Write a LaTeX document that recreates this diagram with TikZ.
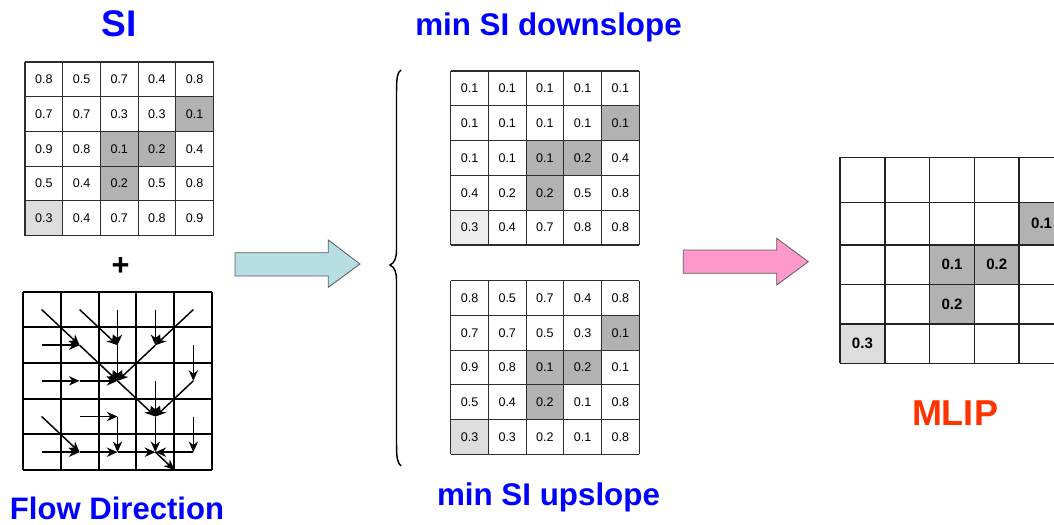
\documentclass[tikz,border=0pt]{standalone}
\usepackage{fontspec}
\setmainfont{Liberation Sans}
\usetikzlibrary{arrows.meta}
\definecolor{titleblue}{RGB}{0,0,255}
\definecolor{titlered}{RGB}{255,51,0}
\definecolor{darkcell}{RGB}{178,178,178}
\definecolor{lightcell}{RGB}{221,221,221}
\definecolor{palecell}{RGB}{238,238,238}
\definecolor{arrowcyan}{RGB}{183,222,226}
\definecolor{arrowpink}{RGB}{255,153,204}
\tikzset{
  headline/.style={font=\fontsize{23.5}{28}\selectfont\bfseries, text=titleblue, inner sep=0pt, anchor=base},
  val/.style={font=\fontsize{9.4}{11}\selectfont, inner sep=0pt},
  boldval/.style={font=\fontsize{11.3}{13}\selectfont\bfseries, inner sep=0pt},
  cellline/.style={draw={rgb,255:red,45;green,45;blue,45}, line width=0.8pt},
  bigline/.style={draw={rgb,255:red,35;green,35;blue,35}, line width=1.2pt},
  flowarrow/.style={line width=1.1pt, -{Stealth[length=8pt,width=7pt]}},
  blockarrow/.style={draw={rgb,255:red,90;green,90;blue,90}, line width=0.6pt},
}
% 5x5 grid of values, unit cell, drawn inside a shifted scope
\newcommand{\valgrid}[3]{%
  \fill[darkcell] (4,1) rectangle (5,2) (2,2) rectangle (4,3) (2,3) rectangle (3,4);
  \fill[#2] (0,4) rectangle (1,5);
  \draw[cellline] (0,0) grid[step=1] (5,5);
  \foreach \vals [count=\r from 0] in {#3}
    \foreach \v [count=\c from 0] in \vals
      \node[val] (#1-\r-\c) at (\c+0.5,\r+0.5) {\v};
}
\begin{document}
\begin{tikzpicture}[x=0.75pt,y=0.75pt,yscale=-1,xscale=1]
\useasboundingbox (0,0) rectangle (1054,525);

% Titles
\node[headline, font=\fontsize{27.8}{32}\selectfont\bfseries] (si-title) at (119,36) {SI};
\node[headline, font=\fontsize{23.3}{28}\selectfont\bfseries] (flow-title) at (117,519) {Flow Direction};
\node[headline] (down-title) at (548.5,35) {min SI downslope};
\node[headline] (up-title) at (548.5,505) {min SI upslope};
\node[headline, font=\fontsize{27}{32}\selectfont\bfseries, text=titlered] (mlip-title) at (955,425) {MLIP};

% SI grid
\begin{scope}[shift={(25,62)},x=28.275pt,y=26.025pt]
  \valgrid{si}{lightcell}{{0.8,0.5,0.7,0.4,0.8},{0.7,0.7,0.3,0.3,0.1},{0.9,0.8,0.1,0.2,0.4},{0.5,0.4,0.2,0.5,0.8},{0.3,0.4,0.7,0.8,0.9}}
\end{scope}

% Plus sign
\node[font=\fontsize{23}{26}\selectfont\bfseries, inner sep=0pt] (plus) at (120.7,266.7) {+};

% Flow direction grid
\begin{scope}[shift={(22.7,291.7)},x=28.44pt,y=26.745pt]
  \draw[line width=1.5pt] (0,0) grid[step=1] (5,5);
  \foreach \r in {0,...,4}
    \foreach \c in {0,...,4}
      \coordinate (f-\r-\c) at (\c+0.5,\r+0.5);
  \coordinate (f-out) at (4,5);
  \foreach \src/\dst in {0-0/1-1,0-1/1-2,0-2/1-2,0-3/1-3,0-4/1-3,
                         1-0/1-1,1-1/2-2,1-2/2-2,1-3/2-2,1-4/2-4,
                         2-0/2-1,2-1/2-2,2-2/3-3,2-3/3-3,2-4/3-3,
                         3-0/4-1,3-1/3-2,3-2/4-2,3-3/4-3,3-4/4-4,
                         4-0/4-1,4-1/4-2,4-2/4-3,4-4/4-3,4-3/out}
    \draw[flowarrow] (f-\src) -- (f-\dst);
\end{scope}

% Block Arrows
\draw[blockarrow, fill=arrowcyan] (235,252.7) -- (328.3,252.7) -- (328.3,240) -- (360,264) -- (328.3,287.3) -- (328.3,276) -- (235,276) -- cycle ;
\draw[blockarrow, fill=arrowpink] (683.3,250) -- (776.7,250) -- (776.7,238.3) -- (808.3,261.7) -- (776.7,285) -- (776.7,273.3) -- (683.3,273.3) -- cycle ;

% Brace
\draw[line width=1.1pt] (401,70) .. controls (397.5,72) and (396.5,78) .. (396.5,92) -- (396.5,250) .. controls (396.5,258) and (394.5,263) .. (390,265) .. controls (394.5,267) and (396.5,272) .. (396.5,280) -- (396.5,444) .. controls (396.5,458) and (397.5,463) .. (401,466) ;

% min SI downslope grid
\begin{scope}[shift={(450.7,71)},x=28.275pt,y=26.1pt]
  \valgrid{down}{palecell}{{0.1,0.1,0.1,0.1,0.1},{0.1,0.1,0.1,0.1,0.1},{0.1,0.1,0.1,0.2,0.4},{0.4,0.2,0.2,0.5,0.8},{0.3,0.4,0.7,0.8,0.8}}
\end{scope}

% min SI upslope grid
\begin{scope}[shift={(450.7,280.7)},x=28.275pt,y=26.025pt]
  \valgrid{up}{lightcell}{{0.8,0.5,0.7,0.4,0.8},{0.7,0.7,0.5,0.3,0.1},{0.9,0.8,0.1,0.2,0.1},{0.5,0.4,0.2,0.1,0.8},{0.3,0.3,0.2,0.1,0.8}}
\end{scope}

% MLIP grid
\fill[darkcell] (1019.2,202.3) rectangle (1064,245);
\fill[darkcell] (929.6,245) rectangle (1019.2,284.3);
\fill[darkcell] (929.6,284.3) rectangle (974.4,324);
\fill[lightcell] (840,324) rectangle (884.8,363.3);
\foreach \y in {157.3,202.3,245,284.3,324,363.3}
  \draw[bigline] (840,\y) -- (1064,\y);
\foreach \x in {840,884.8,929.6,974.4,1019.2}
  \draw[bigline] (\x,157.3) -- (\x,363.3);
% Text Node
\node[boldval] (mlip-1-4) at (1041.6,223.6) {0.1};
\node[boldval] (mlip-2-2) at (952,264.6) {0.1};
\node[boldval] (mlip-2-3) at (996.8,264.6) {0.2};
\node[boldval] (mlip-3-2) at (952,304.2) {0.2};
\node[boldval] (mlip-4-0) at (862.4,343.6) {0.3};
\end{tikzpicture}
\end{document}
